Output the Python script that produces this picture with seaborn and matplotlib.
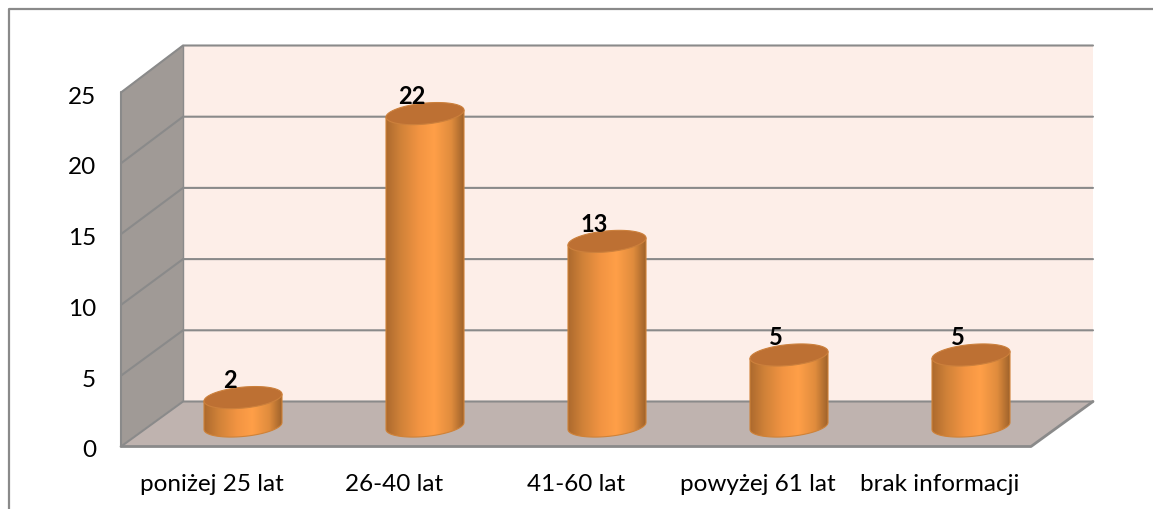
import numpy as np
import pandas as pd
import matplotlib
matplotlib.use('Agg')
import matplotlib.pyplot as plt
from matplotlib.patches import Polygon
import seaborn as sns

# dane z wykresu
kategorie = ['poniżej 25 lat', '26-40 lat', '41-60 lat', 'powyżej 61 lat', 'brak informacji']
wartosci = [2, 22, 13, 5, 5]
podzialka = [0, 5, 10, 15, 20, 25]

W, H = 1153, 510
sns.set_theme(style='white')
plt.rcParams['font.family'] = ['Lato', 'DejaVu Sans']

fig = plt.figure(figsize=(W / 100, H / 100), dpi=100)


def osie(x0, x1, y_dol, y_gora):
    # osie podane w pikselach obrazka
    return fig.add_axes([x0 / W, 1 - y_dol / H, (x1 - x0) / W, (y_dol - y_gora) / H])


# tlo 3D rysowane w pikselach
tlo = fig.add_axes([0, 0, 1, 1])
tlo.set_xlim(0, W)
tlo.set_ylim(H, 0)
tlo.axis('off')

szary = '#8a8a8a'
tlo.plot([9, 9, 1153], [510, 10, 10], color=szary, lw=1.6)
tlo.add_patch(Polygon([(183, 46), (1093, 46), (1093, 402), (183, 402)], fc='#fdeee8', ec='none'))
tlo.add_patch(Polygon([(121, 93), (183, 46), (183, 402), (121, 447)], fc='#a09a96', ec='none'))
tlo.add_patch(Polygon([(121, 447), (183, 402), (1093, 402), (1031, 447)], fc='#bfb3af', ec='none'))
for v in podzialka:
    yb = 402.5 - v * 14.24
    yf = 447.5 - v * 14.16
    tlo.plot([1093, 183, 121], [yb, yb, yf], color=szary, lw=1.5, solid_joinstyle='miter')
tlo.plot([121, 121], [93, 447], color=szary, lw=1.5)
tlo.plot([183, 183], [46, 402], color=szary, lw=1.0)
tlo.plot([121, 1031, 1093], [447.5, 447.5, 402.5], color=szary, lw=2)

# os z opisami na przedniej krawedzi (2 px nizej, tak jak opisy w oryginale)
przod = osie(121, 1031, 449, 95)
przod.patch.set_alpha(0)
przod.set_xlim(-0.5, 4.5)
przod.set_ylim(0, 25)
przod.set_xticks(range(len(kategorie)), kategorie)
przod.set_yticks(podzialka)
przod.tick_params(axis='x', length=0, pad=18, labelsize=17.5, colors='black')
przod.tick_params(axis='y', length=0, pad=18, labelsize=17.5, colors='black')
sns.despine(ax=przod, left=True, bottom=True)

# slupki w srodku glebokosci wykresu, ponizej zera miejsce na dolna elipse
os_sl = osie(152, 1062, 427 + 3 * 14.2, 72)
os_sl.patch.set_alpha(0)
df = pd.DataFrame({'kategoria': kategorie, 'liczba': wartosci})
sns.barplot(data=df, x='kategoria', y='liczba', color='#ff9d45', width=78 / 182, ax=os_sl)
os_sl.axis('off')

kolory = matplotlib.colors.LinearSegmentedColormap.from_list(
    'walec', [(0.0, '#ad6a2e'), (0.18, '#cf8138'), (0.42, '#f29442'), (0.62, '#ff9f48'),
              (0.84, '#e08c3d'), (1.0, '#a0632b')])
t = np.linspace(0, 2 * np.pi, 120)
b = 10.5 / 14.2  # polowa wysokosci elipsy
s = 3.5 / 14.2   # pochylenie elipsy

for patch, v in zip(os_sl.patches, wartosci):
    x0 = patch.get_x()
    a = patch.get_width() / 2
    xc = x0 + a
    patch.set_visible(False)
    # obrys walca: gorna krawedz i dolna polowa elipsy
    dol = np.linspace(np.pi, 2 * np.pi, 50)
    xd = xc + a * np.cos(dol)
    yd = b * np.sin(dol) + s * np.cos(dol)
    obrys = np.r_[[[xc - a, v - s]], np.c_[xd, yd], [[xc + a, v + s]]]
    walec = Polygon(obrys, fc='none', ec='#cf8238', lw=0.8, transform=os_sl.transData, zorder=3)
    os_sl.add_patch(walec)
    img = os_sl.imshow(np.linspace(0, 1, 200).reshape(1, -1), cmap=kolory, aspect='auto',
                       extent=(xc - a, xc + a, -3, v + 3), zorder=2.5)
    img.set_clip_path(walec)
    # gorna elipsa
    os_sl.fill(xc + a * np.cos(t), v + b * np.sin(t) + s * np.cos(t),
               fc='#bd7033', ec='#cc803c', lw=0.8, zorder=4)
    os_sl.annotate(str(v), (xc, v), xytext=(-13 * 0.72, 18 * 0.72), textcoords='offset points',
                   ha='center', va='center', fontsize=17, fontweight='bold', color='black', zorder=5)

os_sl.set_xlim(-0.5, 4.5)
os_sl.set_ylim(-3, 25)

fig.savefig('out.png', dpi=100)
